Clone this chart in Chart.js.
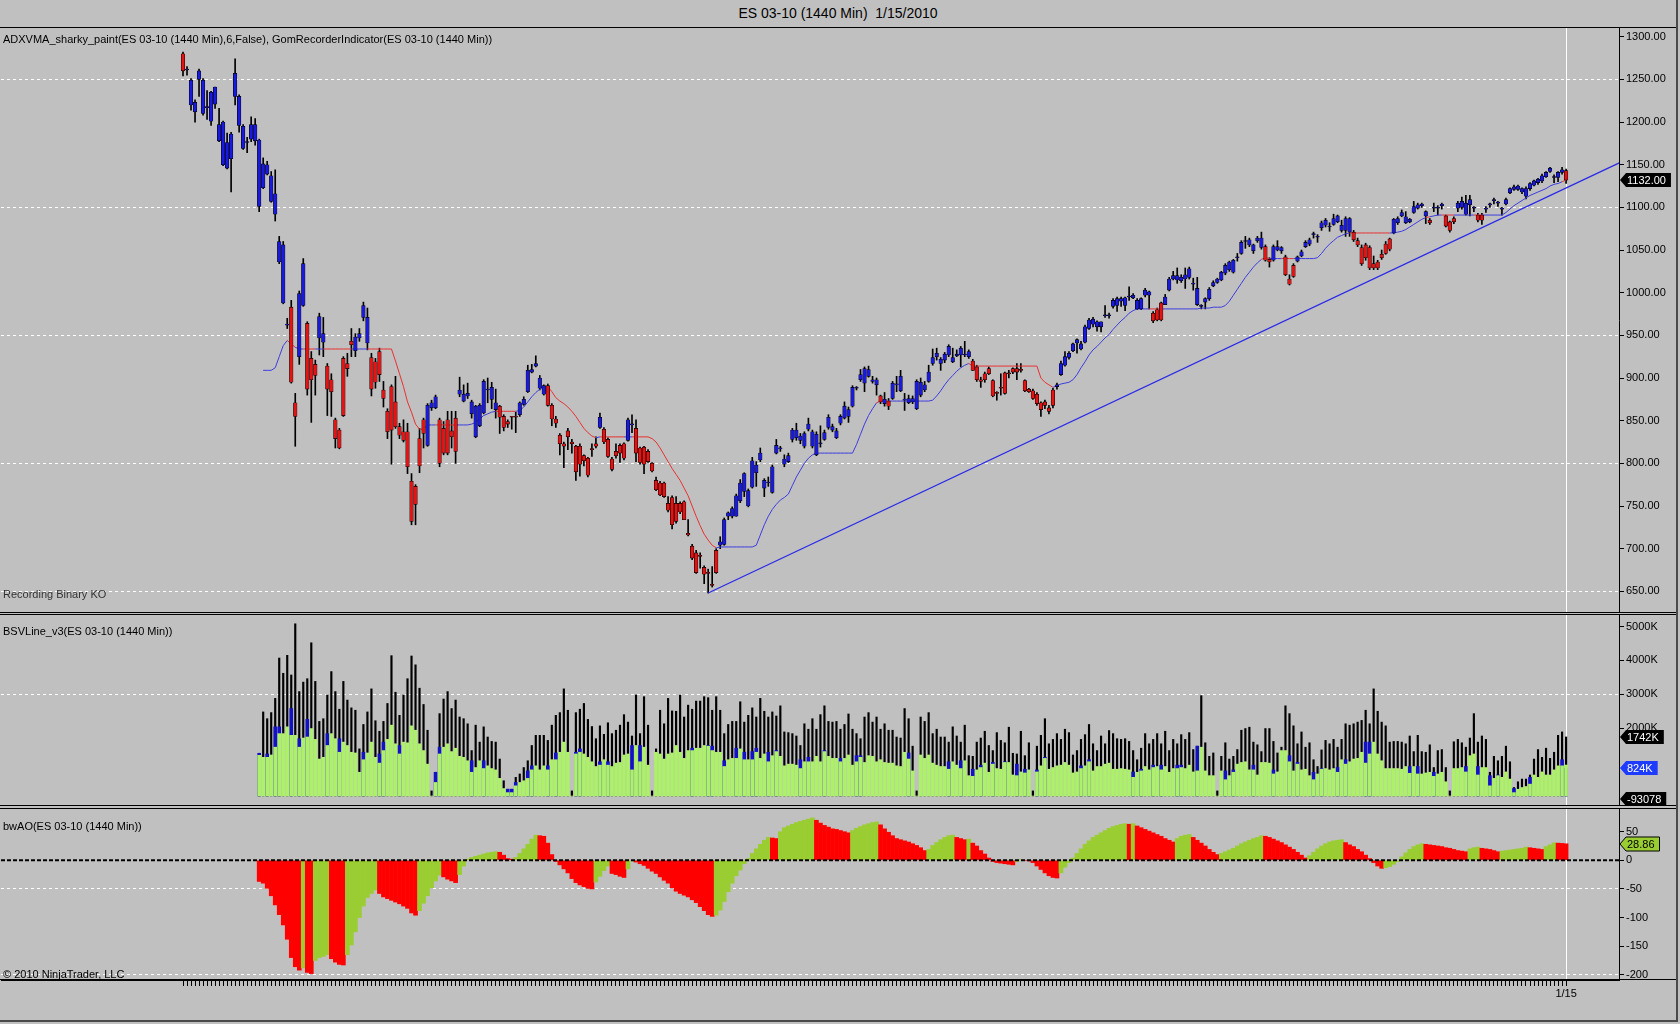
<!DOCTYPE html>
<html>
<head>
<meta charset="utf-8">
<title>ES 03-10 (1440 Min) 1/15/2010</title>
<script src="https://cdn.jsdelivr.net/npm/chart.js@4.4.1/dist/chart.umd.min.js"></script>
<style>
  html, body { margin: 0; padding: 0; background: #c0c0c0; }
  #frame { position: relative; width: 1680px; height: 1024px; overflow: hidden; background: #c0c0c0;
           font-family: "Liberation Sans", Arial, sans-serif; }
  #frame canvas { position: absolute; left: 0; }
  .txt { position: absolute; left: 3px; font-size: 11px; line-height: 13px; color: #000; white-space: pre; }
  #title { position: absolute; top: 5px; left: 0; width: 1676px; text-align: center; font-size: 14px; white-space: pre; }
  #edge { position: absolute; left: 0; top: 0; width: 1676px; height: 1020px;
          border-right: 2px solid #4a4a4a; border-bottom: 2px solid #4a4a4a; pointer-events: none; }
</style>
</head>
<body>
<div id="frame">
  <div id="title">ES 03-10 (1440 Min)  1/15/2010</div>
  <canvas id="priceChart" width="1676" height="586" style="top:27px"></canvas>
  <canvas id="volChart" width="1676" height="192" style="top:614px"></canvas>
  <canvas id="aoChart" width="1676" height="212" style="top:808px"></canvas>
  <div class="txt" style="top:33px">ADXVMA_sharky_paint(ES 03-10 (1440 Min),6,False), GomRecorderIndicator(ES 03-10 (1440 Min))</div>
  <div class="txt" style="top:588px;color:#333">Recording Binary KO</div>
  <div class="txt" style="top:625px">BSVLine_v3(ES 03-10 (1440 Min))</div>
  <div class="txt" style="top:820px">bwAO(ES 03-10 (1440 Min))</div>
  <div class="txt" style="top:968px">© 2010 NinjaTrader, LLC</div>
  <div id="edge"></div>
</div>
<script>
// daily bars, oldest first (last bar = 1/15/2010)
const highs = [
  1282,1265,1251,1226,1262,1251,1237,1236,1241,1216,
  1201,1187,1188,1274,1232,1197,1182,1206,1204,1180,
  1158,1154,1142,1144,1066,1060,970,991,882,1002,
  1040,966,931,921,976,971,917,905,853,841,
  925,929,958,952,958,989,982,929,923,935,
  896,864,892,902,847,851,847,788,775,841,
  853,870,874,880,853,849,861,861,861,901,
  892,894,874,868,870,898,900,895,887,868,
  857,851,855,860,872,878,915,916,926,903,
  892,893,870,855,835,825,841,828,821,823,
  810,807,823,831,859,842,830,807,823,823,
  824,853,857,851,819,820,816,801,784,779,
  778,761,762,761,755,756,734,705,698,695,
  680,676,679,700,714,736,743,749,764,781,
  789,770,807,802,818,782,784,798,828,820,
  810,812,841,847,835,837,853,839,837,844,
  839,857,846,841,857,872,866,891,890,910,
  913,914,902,900,880,883,876,896,902,909,
  882,880,879,898,900,896,915,934,935,924,
  930,939,935,933,937,943,933,922,915,901,
  907,913,898,884,905,907,909,912,917,917,
  898,888,887,883,872,874,868,888,894,920,
  931,931,941,946,943,962,970,971,967,966,
  985,976,993,995,995,995,1007,999,993,994,
  1005,1002,978,982,989,998,1018,1025,1029,1021,
  1029,1030,1017,1018,986,994,1006,1014,1017,1025,
  1034,1037,1039,1046,1061,1066,1064,1057,1066,1071,
  1056,1041,1056,1061,1054,1044,1021,1034,1043,1050,
  1061,1064,1071,1068,1084,1087,1082,1092,1091,1085,
  1089,1088,1073,1064,1056,1058,1055,1043,1038,1050,
  1060,1064,1087,1089,1097,1095,1087,1107,1105,1105,
  1096,1087,1105,1102,1105,1091,1084,1089,1107,1112,
  1114,1114,1101,1093,1093,1101,1105,1111,1107,1100,
  1111,1123,1126,1126,1123,1124,1129,1132,1134,1139,
  1142,1147,1138,1142,1147,1145
];
const bodyTop = [
  1280,1261,1249,1223,1260,1249,1217,1235,1241,1197,
  1200,1176,1186,1257,1230,1195,1176,1197,1197,1179,
  1151,1150,1137,1116,1060,1056,962,983,871,999,
  1034,964,923,916,972,952,914,898,851,839,
  923,917,943,948,952,985,971,924,919,931,
  886,861,890,872,843,837,837,779,773,829,
  851,868,871,878,851,841,851,838,853,886,
  881,882,872,867,868,896,886,889,871,867,
  855,849,854,854,871,875,909,910,917,900,
  891,891,868,852,833,823,838,825,820,820,
  809,806,816,823,854,840,828,805,814,821,
  823,851,845,841,818,819,814,800,780,777,
  777,753,760,753,753,755,718,703,695,691,
  678,671,657,698,708,734,742,747,762,777,
  788,768,803,798,812,780,777,796,821,817,
  805,809,839,839,832,835,846,837,834,823,
  836,854,843,838,855,867,863,889,888,904,
  911,910,898,898,879,875,873,894,892,902,
  874,876,876,896,895,892,907,924,929,922,
  928,937,924,928,935,927,931,920,913,898,
  905,911,897,882,888,906,905,911,911,909,
  897,887,885,881,871,872,865,886,892,917,
  925,929,940,945,940,960,968,969,966,966,
  973,973,991,993,993,994,995,997,991,993,
  1003,1001,976,980,988,995,1016,1020,1020,1018,
  1021,1028,1010,1005,984,993,1004,1012,1016,1024,
  1032,1036,1038,1041,1059,1060,1062,1056,1064,1064,
  1054,1039,1054,1054,1053,1042,1016,1032,1042,1048,
  1059,1062,1068,1065,1082,1085,1077,1087,1090,1079,
  1087,1087,1071,1061,1053,1056,1053,1034,1036,1045,
  1057,1063,1086,1087,1094,1089,1086,1101,1103,1104,
  1095,1085,1099,1099,1104,1090,1083,1087,1105,1107,
  1105,1109,1099,1091,1091,1098,1103,1108,1105,1098,
  1109,1122,1124,1125,1122,1122,1128,1131,1133,1137,
  1141,1146,1135,1141,1144,1143
];
const bodyBottom = [
  1260,1261,1220,1212,1250,1210,1217,1201,1221,1178,
  1150,1146,1157,1230,1196,1169,1176,1180,1178,1101,
  1123,1139,1107,1092,1036,988,962,895,855,925,
  985,887,898,903,947,942,887,884,829,818,
  856,911,939,932,947,971,941,887,895,904,
  876,837,839,843,833,827,796,732,752,797,
  835,821,865,865,800,812,812,831,814,881,
  873,879,858,831,844,859,886,875,863,854,
  842,846,854,854,857,869,884,907,914,888,
  881,868,852,847,823,820,831,823,790,799,
  803,786,816,820,842,825,808,793,809,812,
  806,827,845,812,801,799,802,791,769,763,
  761,745,728,732,743,734,716,689,672,691,
  670,671,657,672,704,705,738,738,738,756,
  767,750,772,789,804,771,777,766,812,817,
  799,802,828,830,827,820,840,820,810,823,
  828,842,839,830,847,853,855,867,888,898,
  894,902,896,892,872,870,867,876,892,885,
  874,871,872,864,880,886,896,917,925,917,
  921,927,919,926,927,927,925,909,898,896,
  898,905,879,882,888,882,905,907,907,909,
  885,884,876,870,863,868,861,868,890,904,
  915,924,932,941,934,942,958,963,960,960,
  973,973,984,985,990,985,995,994,981,981,
  997,997,967,968,968,986,1003,1016,1015,1014,
  1016,1018,1010,986,984,989,993,1008,1012,1015,
  1023,1027,1024,1041,1046,1060,1056,1049,1061,1053,
  1038,1036,1038,1050,1049,1021,1010,1019,1037,1043,
  1054,1057,1068,1065,1076,1079,1077,1080,1083,1073,
  1073,1071,1062,1056,1034,1041,1029,1029,1029,1041,
  1046,1051,1070,1082,1090,1082,1083,1094,1099,1102,
  1090,1082,1099,1099,1102,1078,1073,1083,1099,1100,
  1092,1103,1099,1085,1085,1098,1103,1108,1105,1098,
  1104,1117,1121,1121,1118,1113,1122,1126,1129,1131,
  1136,1142,1135,1135,1141,1132
];
const lows = [
  1254,1255,1214,1200,1230,1208,1203,1196,1216,1177,
  1149,1145,1118,1220,1188,1168,1164,1177,1173,1095,
  1122,1138,1106,1084,1034,987,958,894,820,916,
  984,880,848,880,927,925,856,855,818,817,
  855,902,925,925,943,967,933,879,888,896,
  866,829,799,841,829,825,788,728,728,789,
  818,820,862,864,796,810,810,818,800,878,
  872,876,853,830,843,858,871,864,853,835,
  838,842,840,836,855,868,883,906,913,886,
  880,867,844,842,810,795,816,812,780,785,
  797,784,808,818,841,823,807,791,806,801,
  804,826,836,802,799,788,801,790,768,762,
  760,743,723,730,741,734,715,687,671,677,
  659,648,655,671,700,704,734,736,738,754,
  761,749,771,773,802,761,773,765,811,814,
  796,801,825,827,823,818,838,818,809,819,
  827,840,837,829,845,852,848,866,886,896,
  884,901,894,880,870,867,863,875,884,884,
  862,870,870,863,878,884,895,915,921,909,
  918,925,918,925,913,925,923,909,896,889,
  895,904,878,874,880,881,900,905,898,907,
  884,883,875,868,855,864,858,865,887,903,
  914,922,931,929,933,941,957,960,955,954,
  971,970,982,978,984,979,991,993,980,980,
  995,981,965,967,967,986,1002,1015,1011,1012,
  1005,1016,1003,985,981,981,991,1007,1011,1014,
  1021,1025,1023,1037,1045,1052,1054,1046,1059,1051,
  1037,1030,1037,1049,1046,1020,1009,1018,1036,1042,
  1053,1055,1064,1059,1073,1077,1072,1079,1082,1071,
  1066,1066,1060,1054,1032,1038,1027,1027,1027,1039,
  1045,1049,1069,1080,1089,1081,1082,1093,1098,1100,
  1081,1080,1095,1091,1098,1077,1071,1081,1095,1098,
  1091,1090,1095,1083,1080,1094,1100,1104,1101,1091,
  1103,1116,1120,1120,1116,1110,1120,1125,1127,1129,
  1135,1141,1129,1130,1139,1128
];
// ADXVMA paint: B = blue (trend up), R = red
const paint = (
  "RBBBBBBBBB" + "BBBBBBBBBB" + "BBBBBBBRRB" + "BRRRBBRRRR" + "RRRBBBBRRR" +
  "RRRRRRRRRR" + "RBBBRRRRRB" + "BBBBBBBBBR" + "RRRRBBBBBB" + "BRRRRRRRRR" +
  "RRRRBRRRRR" + "RBBRRRRRRR" + "RRRRRRRRRR" + "RRRRBBBBBB" + "BBBBBBBBBB" +
  "BBBBBBBBBB" + "BBBBBBBBBB" + "BBBBRBRBBB" + "BBBBBBBBBB" + "BBBBBBBRRR" +
  "RRRRRRRRRR" + "RRRRRRRRBB" + "BBBBBBBBBB" + "BBBBBBBBBB" + "BBRRRBBBBB" +
  "BBBBBBBBBB" + "BBBBBBBBBB" + "RRBBBRRRBB" + "BBBBBBBBBB" + "BBRRRRRRRR" +
  "RRBBBBBBBB" + "BRBBBRRRBB" + "BBBRRBBBBB" + "BBBBBBBBBB" + "BBBBBR"
).split('');
const adxvma = [
  null,null,null,null,null,null,null,null,null,null,
  null,null,null,null,null,null,null,null,null,null,
  909,909,909,912,925,938,944,940,936,934,
  934,934,934,934,934,934,934,934,934,934,
  934,934,934,934,934,934,934,934,934,934,
  934,934,934,920,905,890,872,860,846,840,
  840,845,845,845,845,845,845,845,845,845,
  845,845,846,848,852,856,858,860,861,861,
  861,861,861,861,862,866,872,878,883,887,
  890,890,884,877,873,870,866,861,855,848,
  841,836,832,830,831,831,831,831,831,831,
  831,831,831,831,831,831,831,829,825,818,
  810,802,794,787,780,771,762,750,738,727,
  717,710,704,701,702,702,702,702,702,702,
  702,702,702,704,716,728,738,746,752,757,
  760,764,774,784,792,800,806,810,812,812,
  812,812,812,812,812,812,812,812,822,834,
  846,856,864,871,873,873,873,873,873,873,
  873,873,873,873,873,873,873,874,879,885,
  892,898,903,908,912,915,917,914,914,914,
  914,914,914,914,914,914,914,914,914,914,
  914,914,914,914,900,895,892,889,891,893,
  894,895,898,904,912,919,927,933,937,942,
  947,951,957,962,967,971,976,979,981,981,
  981,981,981,981,981,981,981,981,981,981,
  981,981,981,981,982,982,982,983,983,983,
  985,990,997,1004,1011,1018,1024,1030,1035,1039,
  1041,1040,1040,1040,1040,1040,1040,1040,1040,1040,
  1040,1040,1040,1041,1046,1052,1057,1061,1065,1067,
  1069,1070,1070,1070,1070,1070,1070,1070,1070,1070,
  1070,1070,1070,1071,1072,1074,1077,1080,1083,1086,
  1088,1089,1090,1091,1091,1091,1091,1091,1091,1091,
  1091,1091,1091,1091,1091,1091,1091,1091,1091,1091,
  1094,1098,1102,1105,1108,1111,1114,1116,1118,1120,
  1122,1125,1127,1128,1130,1132
];
// trend line drawn from the March low: [bar, price]
const trendLine = [[131, 648], [360, 1156]];

// BSVLine volume, thousands
const volTotal = [
  null,null,null,null,null,null,null,null,null,null,
  null,null,null,null,null,null,null,null,null,1260,
  2480,2280,2460,2880,4070,3620,4150,3570,5080,3080,
  3360,3460,4520,3380,2200,2280,2980,3670,3080,2560,
  3380,2830,2600,2530,1390,2110,2480,3160,2220,1910,
  2200,2730,4140,3060,2380,2980,3460,4130,3870,3180,
  2700,1940,150,700,2430,2860,3080,2580,2830,2330,
  2280,2130,1340,2090,1590,2040,1740,1610,1590,1090,
  450,200,200,550,650,840,1040,1490,1790,1790,
  1790,1640,2090,2380,2460,3160,2530,150,2460,2560,
  2730,2260,2050,1690,2070,1820,2160,1840,1940,2090,
  2400,2180,1770,2980,1840,2930,2090,150,1390,2530,
  2130,2880,2510,2500,2980,2330,2680,2560,2800,2800,
  2930,2900,2530,2930,2530,1840,2110,2200,2200,2780,
  2180,2380,2600,2330,2880,2500,2330,2480,2360,2660,
  1890,1870,1840,1770,1490,2130,1970,2280,1970,2400,
  2660,2200,2180,2200,1970,2110,2420,1970,1840,1690,
  2330,2460,2180,2330,1970,2130,1940,1940,1740,1710,
  2580,2280,1470,150,2330,2200,2460,1840,1970,1740,
  1740,1590,2040,1770,1590,2090,1190,1170,1590,1710,
  1910,1490,1340,1870,1640,1570,2030,1260,1240,1910,
  1190,1570,150,1470,1790,2280,1540,1670,1840,1670,
  1970,1870,1210,1340,1670,1810,2110,1540,1340,1770,
  1540,1930,1840,1690,1670,1690,1610,1340,1070,1410,
  1840,1540,1670,1840,1540,1910,1340,1670,1540,1810,
  1670,1870,1370,1470,2960,1570,1170,1270,150,1170,
  1570,1090,1170,1370,1940,1990,2030,1590,1510,1310,
  1990,1990,1610,1270,1440,2660,2430,2070,1540,1890,
  1440,1570,1070,870,1360,1640,1540,1670,1440,1670,
  2130,2090,2130,2180,2230,2530,2130,3160,2500,2180,
  2070,1590,1610,1610,1590,1540,1770,1310,1790,1310,
  1290,1510,840,1340,1370,840,150,1600,1670,1570,
  1440,1710,2430,1590,1770,1670,700,1170,1040,1170,
  1470,1010,250,420,500,500,620,1090,1370,1140,
  1410,1110,1290,1790,1890,1742
];
const volGreen = [
  null,null,null,null,null,null,null,null,null,null,
  null,null,null,null,null,null,null,null,null,1200,
  1140,1140,1210,1440,1840,1840,2040,1790,1790,1440,
  1710,1740,1990,1670,1090,1140,1490,1840,1690,1290,
  1590,1490,1290,1270,700,1070,1270,1590,1140,970,
  1340,1670,2090,1540,1240,1590,1570,2070,1940,1540,
  1340,940,0,400,1240,1440,1540,1310,1410,1170,
  1140,1040,700,840,1040,810,890,810,770,520,
  220,100,100,300,400,450,520,770,890,770,
  890,770,1070,1070,1290,1590,1290,0,1240,1290,
  1240,1140,1010,870,910,1070,910,870,970,990,
  1210,1240,770,1490,1010,1440,910,0,1290,1240,
  1090,1240,1270,1490,1290,1110,1340,1340,1410,1410,
  1490,1470,1340,1290,1290,870,1070,1110,1110,1390,
  1070,1070,1070,1290,1110,1240,1010,1190,1310,1170,
  890,940,940,910,810,1010,1010,1010,1170,1010,
  1310,1170,1110,1110,1010,1110,1210,910,1010,1140,
  990,1190,1170,1010,1070,990,970,970,890,870,
  1290,1090,740,0,1210,1110,1210,970,910,870,
  870,790,1010,910,810,1040,600,580,770,840,
  970,700,940,810,790,990,990,620,600,710,
  680,770,0,710,890,1110,790,840,890,910,
  990,910,680,710,810,890,1010,740,870,870,
  940,970,790,790,810,790,770,550,700,740,
  870,770,840,870,770,870,700,810,810,840,
  810,910,710,740,1440,740,600,600,0,740,
  480,600,700,940,990,1010,770,770,620,990,
  990,970,650,710,1340,1340,1010,740,940,770,
  790,600,480,650,790,810,770,810,700,1070,
  940,1010,1090,1110,1290,970,1240,1590,1240,1040,
  810,810,810,810,790,870,670,870,650,650,
  680,700,580,650,700,420,0,810,810,840,
  710,1190,1240,620,840,840,300,520,600,550,
  710,500,100,200,250,280,350,620,550,710,
  620,620,770,890,890,914
];
const volBlue = [
  null,null,null,null,null,null,null,null,null,null,
  null,null,null,null,null,null,null,null,null,1260,
  null,1240,null,2040,2040,null,null,2580,null,1690,
  null,2260,null,null,null,null,1840,null,null,1690,
  null,null,null,null,null,1290,null,null,null,1240,
  1590,null,null,null,1490,null,null,null,null,null,
  null,null,null,700,1440,null,null,null,null,null,
  null,null,1040,null,null,1040,null,null,null,null,
  null,200,200,400,null,null,740,890,null,null,
  null,890,null,1270,null,null,null,null,1290,1390,
  null,null,null,null,1010,null,1010,null,null,null,
  null,null,1490,null,1490,null,null,null,null,null,
  null,null,null,null,null,null,null,1410,null,null,
  null,1490,1470,null,null,1040,null,null,1410,null,
  1290,null,1310,1410,null,null,1290,null,1340,null,
  null,null,null,null,1070,null,1140,null,null,null,
  1340,null,null,null,1110,null,null,null,1190,1190,
  null,null,null,null,null,null,null,null,null,null,
  null,1270,null,null,null,null,null,null,null,null,
  null,1010,null,null,1040,null,null,790,null,910,
  null,null,990,null,null,1010,null,null,940,null,
  790,null,null,770,null,1140,null,null,null,null,
  null,null,null,null,890,null,1070,null,null,null,
  null,null,null,null,null,null,null,710,null,790,
  null,null,910,null,910,null,null,null,910,910,
  null,null,null,1470,null,null,null,null,null,null,
  740,null,770,null,null,null,null,910,null,null,
  null,null,770,null,null,null,1190,null,990,null,
  null,null,700,null,810,null,null,null,840,null,
  1070,null,null,null,null,1590,1590,null,null,null,
  null,null,null,null,null,null,870,null,870,null,
  null,null,700,null,null,null,null,null,null,null,
  870,null,null,870,null,null,600,null,620,null,
  null,null,220,null,null,null,550,null,null,null,
  null,null,null,null,1070,824
];
// bwAO awesome oscillator
const ao = [
  null,null,null,null,null,null,null,null,null,null,
  null,null,null,null,null,null,null,null,null,-37,
  -40,-49,-62,-78,-95,-113,-138,-170,-186,-192,
  -188,-196,-198,-175,-170,-168,-165,-172,-178,-182,
  -183,-165,-148,-125,-100,-80,-65,-58,-52,-58,
  -64,-67,-70,-73,-76,-80,-84,-92,-96,-88,
  -75,-62,-48,-36,-26,-29,-33,-36,-39,-25,
  -10,2,5,7,9,11,13,14,15,14,
  9,3,2,5,12,20,28,37,44,43,
  42,30,10,-2,-8,-15,-22,-32,-39,-43,
  -46,-49,-50,-38,-28,-18,-10,-23,-25,-28,
  -30,-15,-1,-3,-6,-9,-14,-19,-23,-29,
  -35,-40,-48,-54,-58,-61,-64,-69,-74,-81,
  -88,-95,-98,-96,-87,-72,-55,-40,-27,-17,
  -6,3,12,20,28,35,40,39,38,50,
  57,60,63,66,68,70,72,74,70,65,
  61,58,55,54,52,50,48,52,56,59,
  62,64,66,67,62,55,49,43,38,36,
  34,32,29,26,22,17,19,26,31,36,
  40,43,44,40,38,36,37,30,25,17,
  11,4,-2,-4,-5,-6,-7,-8,-2,1,
  0,-1,-4,-10,-16,-22,-27,-30,-31,-22,
  -12,-4,4,12,20,28,34,40,44,48,
  52,56,59,61,63,64,63,64,60,57,
  54,51,48,45,42,38,35,32,38,42,
  44,45,40,35,30,25,19,14,10,12,
  15,18,21,25,29,32,35,38,40,43,
  42,40,37,34,31,27,23,19,14,9,
  4,8,14,20,25,29,32,34,35,36,
  31,27,24,19,15,9,3,-4,-10,-14,
  -13,-11,-7,-2,6,13,19,24,27,29,
  28,27,26,25,24,22,21,19,17,16,
  15,20,22,23,21,20,19,17,15,16,
  17,18,19,20,21,23,22,21,20,19,
  24,27,30.5,30,29.5,28.86
];

const priceTicks = [650, 700, 750, 800, 850, 900, 950, 1000, 1050, 1100, 1150, 1200, 1250, 1300];
const volTicks = [2000, 3000, 4000, 5000];
const aoTicks = [50, 0, -50, -100, -150, -200];
const dateLabel = '1/15';
const lastPrice = 1132.00;
const lastVolTotal = 1742, lastVolBlue = 824, lastVolDelta = -93.078;
const lastAo = 28.86;

const FONT = '"Liberation Sans", Arial, sans-serif';
const BLUE = '#1a1adc', RED = '#e41414';
const LAST = highs.length - 1;
const X_MIN = -45.4, X_MAX = 358.2;
const idx = highs.map((_, i) => i);

function xScale(showTicks) {
  return {
    type: 'linear', min: X_MIN, max: X_MAX, bounds: 'data', offset: false,
    afterBuildTicks: s => { s.ticks = showTicks ? idx.map(v => ({ value: v })) : [{ value: LAST }]; },
    afterFit: s => {
      s.height = showTicks ? 40 : 0;
      s.paddingLeft = 0; s.paddingRight = 0;
    },
    grid: {
      offset: false,
      color: c => (c.tick && c.tick.value === LAST) ? '#ffffff' : 'rgba(0,0,0,0)',
      drawTicks: showTicks, tickLength: 6, tickColor: '#000', tickWidth: 1
    },
    border: { display: showTicks, color: '#000' },
    ticks: {
      display: showTicks, autoSkip: false, maxRotation: 0, minRotation: 0, padding: 1,
      color: '#000', font: { size: 11, family: FONT },
      callback: v => v === LAST ? dateLabel : ''
    }
  };
}

function yScale(min, max, tickVals, gridTest, fmt) {
  return {
    position: 'right', min, max, bounds: 'data',
    afterBuildTicks: s => { s.ticks = tickVals.map(v => ({ value: v })); },
    afterFit: s => {
      s.width = 57;
      s.paddingTop = 0; s.paddingBottom = 0;
    },
    grid: {
      color: c => (c.tick && gridTest(c.tick.value)) ? '#ffffff' : 'rgba(0,0,0,0)',
      drawTicks: true, tickLength: 5, tickColor: '#000'
    },
    border: { color: '#000', dash: [3, 3] },
    ticks: { color: '#000', padding: 2, font: { size: 11, family: FONT }, callback: fmt }
  };
}

const framePlugin = {
  id: 'frame',
  afterDraw(chart) {
    const { ctx, chartArea: a, width } = chart;
    ctx.save();
    ctx.strokeStyle = '#000';
    ctx.lineWidth = 1;
    ctx.beginPath();
    ctx.moveTo(0, Math.round(a.top) + 0.5); ctx.lineTo(width, Math.round(a.top) + 0.5);
    ctx.moveTo(0, Math.round(a.bottom) - 0.5); ctx.lineTo(width, Math.round(a.bottom) - 0.5);
    ctx.stroke();
    ctx.restore();
  }
};

function tagPlugin(items) {
  return {
    id: 'tags',
    afterDraw(chart) {
      const { ctx, chartArea } = chart;
      const ys = chart.scales.y;
      ctx.save();
      ctx.font = '11px ' + FONT;
      items.forEach(t => {
        const py = Math.round(ys.getPixelForValue(t.value));
        const x0 = chartArea.right + 1, h = 14;
        const w = ctx.measureText(t.text).width + 12;
        ctx.beginPath();
        ctx.moveTo(x0, py);
        ctx.lineTo(x0 + 6, py - h / 2);
        ctx.lineTo(x0 + w, py - h / 2);
        ctx.lineTo(x0 + w, py + h / 2);
        ctx.lineTo(x0 + 6, py + h / 2);
        ctx.closePath();
        ctx.fillStyle = t.bg;
        ctx.fill();
        if (t.line) { ctx.strokeStyle = t.line; ctx.lineWidth = 1; ctx.stroke(); }
        ctx.fillStyle = t.fg;
        ctx.textBaseline = 'middle';
        ctx.textAlign = 'left';
        ctx.fillText(t.text, x0 + 7, py + 1);
      });
      ctx.restore();
    }
  };
}

function baseOptions(x, y) {
  return {
    responsive: false, animation: false, events: [],
    layout: { padding: { left: 1, right: 0, top: 0, bottom: 0 } },
    plugins: { legend: { display: false }, tooltip: { enabled: false } },
    scales: { x, y }
  };
}

// Price panel
new Chart(document.getElementById('priceChart'), {
  type: 'bar',
  data: {
    datasets: [
      {
        type: 'bar', label: 'body',
        data: idx.map(i => ({ x: i, y: [bodyBottom[i], bodyTop[i]] })),
        backgroundColor: paint.map(c => c === 'B' ? BLUE : RED),
        borderColor: '#000', borderWidth: 0.6, borderSkipped: false,
        barThickness: 3.6, minBarLength: 1, grouped: false, order: 0
      },
      {
        type: 'line', label: 'ADXVMA',
        data: idx.map(i => ({ x: i, y: adxvma[i] })),
        borderWidth: 1, pointRadius: 0, tension: 0, spanGaps: false,
        borderColor: '#3c3ce0',
        segment: { borderColor: s => paint[s.p1DataIndex] === 'B' ? '#3c3ce0' : '#e83030' },
        order: 1
      },
      {
        type: 'line', label: 'trend',
        data: trendLine.map(p => ({ x: p[0], y: p[1] })),
        borderColor: '#2a2ae8', borderWidth: 1.3, pointRadius: 0, order: 2
      },
      {
        type: 'bar', label: 'wick',
        data: idx.map(i => ({ x: i, y: [lows[i], highs[i]] })),
        backgroundColor: '#000', barThickness: 1, grouped: false, order: 3
      }
    ]
  },
  options: baseOptions(
    xScale(false),
    yScale(624.6, 1311.4, priceTicks, v => (v - 650) % 150 === 0, v => v.toFixed(2))
  ),
  plugins: [framePlugin, tagPlugin([{ value: lastPrice, text: lastPrice.toFixed(2), bg: '#000', fg: '#fff' }])]
});

// Volume panel
new Chart(document.getElementById('volChart'), {
  type: 'bar',
  data: {
    datasets: [
      {
        label: 'green', data: idx.map(i => ({ x: i, y: volGreen[i] })),
        backgroundColor: '#adf06a', barThickness: 3, grouped: false, order: 0
      },
      {
        label: 'blue', data: idx.map(i => ({ x: i, y: volBlue[i] })),
        backgroundColor: '#1212c4', barThickness: 3, grouped: false, order: 1
      },
      {
        label: 'total', data: idx.map(i => ({ x: i, y: volTotal[i] })),
        backgroundColor: '#000', barThickness: 1.5, grouped: false, order: 2
      }
    ]
  },
  options: baseOptions(
    xScale(false),
    yScale(-295, 5369, volTicks, v => v === 3000, v => v + 'K')
  ),
  plugins: [framePlugin, tagPlugin([
    { value: lastVolTotal, text: lastVolTotal + 'K', bg: '#000', fg: '#fff' },
    { value: lastVolBlue, text: lastVolBlue + 'K', bg: '#1e3cff', fg: '#fff' },
    { value: lastVolDelta, text: String(Math.round(lastVolDelta * 1000)), bg: '#000', fg: '#fff' }
  ])]
});

// AO panel
const aoColors = ao.map((v, i) => (i > 0 && ao[i - 1] !== null && v > ao[i - 1]) ? '#9acd32' : '#ff0000');
new Chart(document.getElementById('aoChart'), {
  type: 'bar',
  data: {
    datasets: [
      {
        type: 'line', label: 'zero',
        data: [{ x: X_MIN, y: 0 }, { x: X_MAX, y: 0 }],
        borderColor: '#000', borderWidth: 2, borderDash: [4, 2], pointRadius: 0, order: 0
      },
      {
        type: 'bar', label: 'AO', data: idx.map(i => ({ x: i, y: ao[i] })),
        backgroundColor: aoColors, barThickness: 4, grouped: false, order: 1
      }
    ]
  },
  options: baseOptions(
    xScale(true),
    yScale(-209.2, 91.4, aoTicks, v => (v + 50) % 150 === 0, v => String(v))
  ),
  plugins: [framePlugin, tagPlugin([{ value: lastAo, text: lastAo.toFixed(2), bg: '#9acd32', fg: '#000', line: '#000' }])]
});
</script>
</body>
</html>
